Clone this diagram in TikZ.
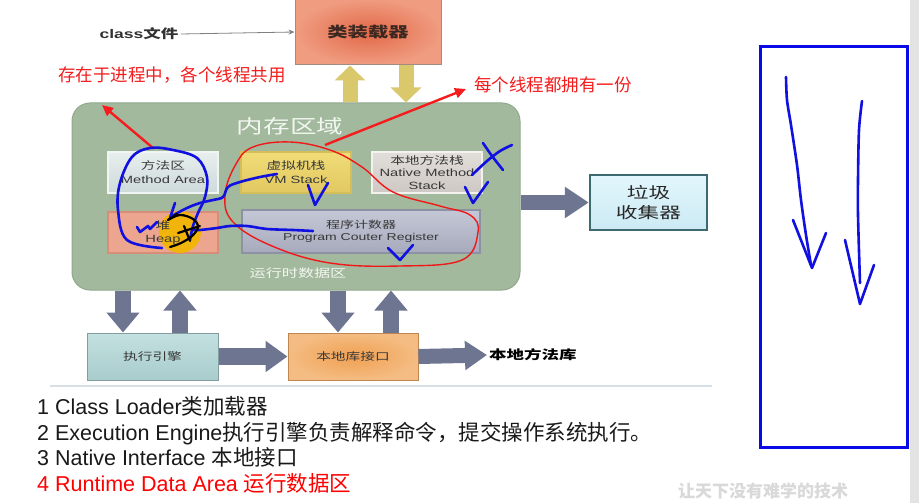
\documentclass[tikz,border=0pt]{standalone}
\usepackage{fontspec}
\setmainfont{Liberation Sans}
\newfontfamily\cjk{Noto Sans CJK SC}
\newfontfamily\cjkw[FakeStretch=1.4]{Noto Sans CJK SC}
\newfontfamily\latw[FakeStretch=1.4]{Liberation Sans}
\newcommand\zhw[1]{{\cjkw #1}}
\newcommand\enw[1]{{\latw #1}}
\newcommand\zh[1]{{\cjk #1}}
\usetikzlibrary{arrows.meta}
\definecolor{memg}{HTML}{A3B99D}
\definecolor{memb}{HTML}{92A88C}
\definecolor{boxtxt}{HTML}{383838}
\definecolor{garr}{HTML}{6E7590}
\definecolor{yarr}{HTML}{D9C86C}
\definecolor{penblue}{HTML}{1010E0}
\definecolor{penred}{HTML}{F01818}
\definecolor{anred}{HTML}{F41C1C}
\tikzset{
  box/.style={draw, line width=1.2pt, inner sep=0pt, minimum width=110pt, minimum height=41pt,
    text=boxtxt, align=center, font=\fontsize{10.5}{14}\selectfont},
  yarrow/.style={draw=yarr, line width=15pt, -{Triangle[width=30pt,length=15pt]}},
  garrow/.style={draw=garr, line width=16pt, -{Triangle[width=32pt,length=20pt]}},
  redarrow/.style={draw=anred, line width=2.4pt, -{Triangle[width=10pt,length=11pt]}},
  bluepen/.style={draw=penblue, line width=2.6pt, line cap=round, line join=round},
  blackpen/.style={draw=black, line width=2.2pt, line cap=round, line join=round},
  anno/.style={text=anred, font=\cjk\fontsize{17.5}{20}\selectfont},
  bottomtxt/.style={anchor=base west, inner sep=0pt, font=\fontsize{21.5}{25}\selectfont, text=black!90}
}
\begin{document}
\begin{tikzpicture}[x=1pt,y=-1pt]
\useasboundingbox (0,0) rectangle (919,503);
\fill[white] (0,0) rectangle (919,503);
\fill[gray!22] (910,0) rectangle (919,503);
% separator line
\draw[color={rgb,255:red,214;green,222;blue,230}, line width=2pt] (50,386) -- (712,386);

% memory area
\node[draw=memb, fill=memg, line width=1pt, rounded corners=18pt, minimum width=448pt, minimum height=187pt, inner sep=0pt] (mem) at (296,196.5) {};
\node[text={rgb,255:red,242;green,246;blue,240}, font=\cjkw\fontsize{19}{22}\selectfont] (memtitle) at (290,126) {内存区域};
\node[text={rgb,255:red,242;green,246;blue,240}, font=\cjkw\fontsize{11.5}{14}\selectfont] (rtlabel) at (298,273) {运行时数据区};

% inner boxes
\node[box, draw={rgb,255:red,240;green,244;blue,242}, top color={rgb,255:red,232;green,238;blue,238}, bottom color={rgb,255:red,206;green,218;blue,218}] (method) at (163,172.5) {\zhw{方法区}\\\enw{Method Area}};
\node[box, draw={rgb,255:red,212;green,190;blue,90}, top color={rgb,255:red,240;green,220;blue,120}, bottom color={rgb,255:red,226;green,200;blue,96}] (vms) at (296,172.5) {\zhw{虚拟机栈}\\\enw{VM Stack}};
\node[box, line width=2pt, draw={rgb,255:red,244;green,242;blue,238}, top color={rgb,255:red,226;green,222;blue,218}, bottom color={rgb,255:red,206;green,200;blue,196}, font=\fontsize{10.5}{12.5}\selectfont] (nms) at (427,172.5) {\zhw{本地方法栈}\\\enw{Native Method}\\\enw{Stack}};
\node[box, draw={rgb,255:red,214;green,142;blue,120}, fill={rgb,255:red,236;green,166;blue,144}] (heap) at (163,232.5) {};
\node[box, minimum width=238pt, minimum height=43pt, draw={rgb,255:red,140;green,146;blue,164}, top color={rgb,255:red,196;green,200;blue,214}, bottom color={rgb,255:red,166;green,170;blue,188}, font=\fontsize{10}{11.5}\selectfont] (pc) at (361,231.5) {\zhw{程序计数器}\\\enw{Program Couter Register}};
% highlight circle on heap
\fill[color={rgb,255:red,242;green,182;blue,0}, opacity=0.92] (180,232) circle (21pt);
\node[text=boxtxt, align=center, font=\fontsize{10.5}{13}\selectfont] (heaptxt) at (heap.center) {\zhw{堆}\\\enw{Heap}};

% class loader
\node[draw={rgb,255:red,160;green,140;blue,128}, line width=1pt, inner color={rgb,255:red,226;green,104;blue,72}, outer color={rgb,255:red,240;green,156;blue,128}, minimum width=146pt, minimum height=66pt, inner sep=0pt, font=\cjkw\bfseries\fontsize{14.5}{16}\selectfont, text={rgb,255:red,60;green,40;blue,32}] (loader) at (368,32) {类装载器};
\node[font=\bfseries\fontsize{12.5}{14}\selectfont, text={rgb,255:red,50;green,50;blue,50}, inner sep=2pt] (cls) at (139,34) {\enw{class}\zhw{文件}};
\draw[draw=gray, line width=0.8pt, -{Stealth[length=6pt,width=5pt]}] (cls.east) -- (loader.west);

% yellow arrows
\draw[yarrow] ([xshift=-18pt]loader.south |- mem.north) -- ([xshift=-18pt]loader.south);
\draw[yarrow] ([xshift=38pt]loader.south) -- ([xshift=38pt]loader.south |- mem.north);

% garbage collector
\node[draw={rgb,255:red,60;green,106;blue,110}, line width=2.5pt, top color={rgb,255:red,226;green,246;blue,252}, bottom color={rgb,255:red,204;green,234;blue,244}, minimum width=117pt, minimum height=55pt, inner sep=0pt, align=center, font=\cjkw\fontsize{15.5}{20}\selectfont, text={rgb,255:red,40;green,40;blue,40}] (gc) at (648.5,202.5) {垃圾\\收集器};
\draw[garrow, line width=15pt, -{Triangle[width=30pt,length=24pt]}] (mem.east |- gc.west) -- (gc.west);

% execution engine and native interface
\node[draw={rgb,255:red,130;green,158;blue,158}, line width=1pt, top color={rgb,255:red,196;green,224;blue,224}, bottom color={rgb,255:red,168;green,204;blue,204}, minimum width=131pt, minimum height=47pt, inner sep=0pt, font=\cjkw\fontsize{10.5}{12}\selectfont, text=boxtxt] (exe) at (152.5,356.5) {执行引擎};
\node[draw={rgb,255:red,190;green,134;blue,80}, line width=1pt, inner color={rgb,255:red,240;green,160;blue,82}, outer color={rgb,255:red,244;green,188;blue,130}, minimum width=130pt, minimum height=47pt, inner sep=0pt, font=\cjkw\fontsize{10.5}{12}\selectfont, text=boxtxt] (jni) at (353,356.5) {本地库接口};
\node[anchor=west, inner sep=2pt, font=\cjkw\bfseries\fontsize{12.5}{14}\selectfont, text=black] (lib) at (487,355) {本地方法库};

\draw[garrow] ([xshift=-29.5pt]exe.north |- mem.south) -- ([xshift=-29.5pt]exe.north);
\draw[garrow] ([xshift=27.5pt]exe.north) -- ([xshift=27.5pt]exe.north |- mem.south);
\draw[garrow] ([xshift=-15pt]jni.north |- mem.south) -- ([xshift=-15pt]jni.north);
\draw[garrow] ([xshift=38pt]jni.north) -- ([xshift=38pt]jni.north |- mem.south);
\draw[garrow, line width=17pt, -{Triangle[width=30pt,length=22pt]}] (exe.east) -- (jni.west);
\draw[garrow, line width=15pt, -{Triangle[width=28pt,length=22pt]}] (jni.east) -- (lib.west);

% red annotations
\node[anno] (ann1) at (172,75) {存在于进程中，各个线程共用};
\node[anno] (ann2) at (553,85) {每个线程都拥有一份};
\coordinate (r1s) at (153,148);
\coordinate (r1e) at (102,105);
\coordinate (r2s) at (325,145);
\coordinate (r2e) at (466,89);
\draw[redarrow] (r1s) -- (r1e);
\draw[redarrow] (r2s) -- (r2e);

% red oval
\draw[penred, line width=1.4pt] plot[smooth cycle, tension=0.65] coordinates {(253,147) (290,142) (330,150) (362,167) (393,192) (440,206) (470,215) (478,232) (462,260) (400,266) (330,263) (272,246) (233,222) (225,195) (236,164)};

% blue pen strokes
\draw[bluepen] plot[smooth, tension=0.6] coordinates {(162,248) (127,240) (118,210) (120,183) (132,157) (150,148) (173,150) (197,158) (207,177) (205,197) (198,213) (193,226) (190,240)};
\draw[bluepen] plot[smooth, tension=0.6] coordinates {(277,174) (260,177) (240,182) (228,187) (223,197) (213,200) (200,203) (187,208) (172,216)};
\draw[bluepen] (175,203) -- (170,218);
\draw[bluepen] plot[smooth, tension=0.5] coordinates {(313,231) (293,230) (267,229) (247,226) (230,226) (217,228) (200,230) (193,230)};
\draw[bluepen] (137,227) -- (140,232) -- (148,226) -- (150,229) -- (157,222);
\draw[bluepen] (308,185) -- (315,205) -- (328,183);
\draw[bluepen] (465,187) -- (473,203) -- (488,182);
\draw[bluepen] plot[smooth] coordinates {(472,175) (487,161) (500,151) (512,145)};
\draw[bluepen] plot[smooth] coordinates {(483,143) (492,156) (503,170)};
\draw[bluepen] (388,248) -- (400,260) -- (413,245);

% black pen strokes on heap
\draw[blackpen] plot[smooth, tension=0.6] coordinates {(168,220) (180,215) (193,219) (198,227) (192,236) (181,243) (170,247)};
\draw[blackpen] (178,233) -- (200,226);
\draw[blackpen] (184,226) -- (190,241);
\draw[blackpen] (168,220) -- (177,214);

% right blue frame
\draw[draw={rgb,255:red,10;green,10;blue,230}, line width=3pt] (760,47) rectangle (907,447);
\draw[bluepen] plot[smooth, tension=0.5] coordinates {(786,77) (787,100) (791,125) (797,165) (801,200) (806,235) (811,265)};
\draw[bluepen] (793,220) -- (812,268) -- (826,233);
\draw[bluepen] plot[smooth, tension=0.5] coordinates {(862,101) (859,130) (858,180) (858,215) (860,283)};
\draw[bluepen] (845,240) -- (860,304) -- (874,265);

% bottom list
\node[bottomtxt] (l1) at (37,414) {1 Class Loader\zh{类加载器}};
\node[bottomtxt] (l2) at (37,440) {2 Execution Engine\zh{执行引擎负责解释命令，提交操作系统执行。}};
\node[bottomtxt] (l3) at (37,465) {3 Native Interface \zh{本地接口}};
\node[bottomtxt, text=red] (l4) at (37,491) {4 Runtime Data Area \zh{运行数据区}};

% watermark
\node[text=gray!30, font=\cjk\bfseries\fontsize{17}{20}\selectfont] (wm) at (763,491) {让天下没有难学的技术};
\end{tikzpicture}
\end{document}
